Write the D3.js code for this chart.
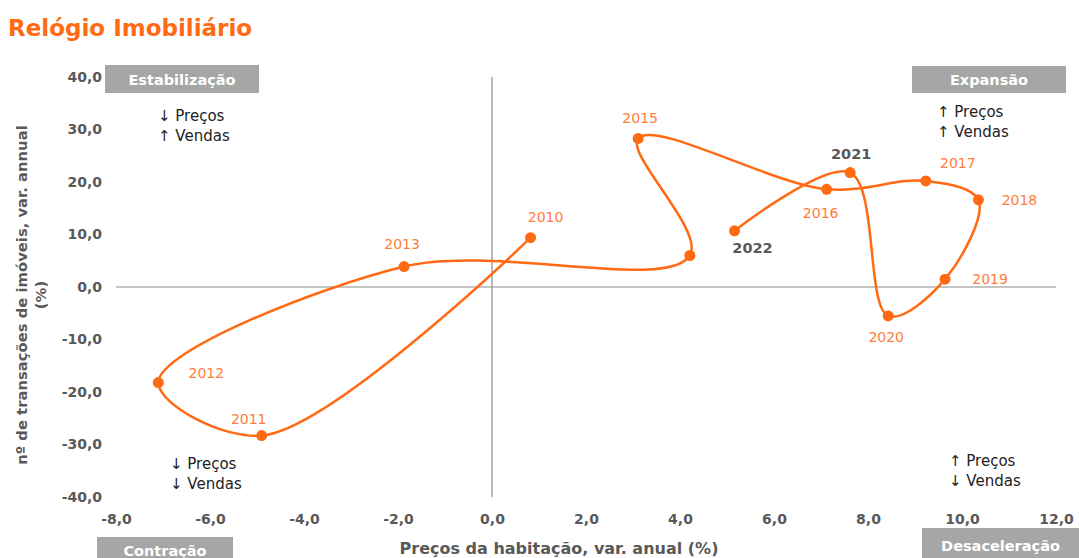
<!DOCTYPE html>
<html>
<head>
<meta charset="utf-8">
<script src="https://cdn.jsdelivr.net/npm/d3@7"></script>
<style>
  html, body { margin: 0; padding: 0; background: #fff; }
  svg { display: block; font-family: "DejaVu Sans", Verdana, sans-serif; }
</style>
</head>
<body>
<svg id="chart" width="1079" height="558"></svg>
<script>
// Annual change in house prices (x) and in number of transactions (y), %
const years  = [2010, 2011, 2012, 2013, 2014, 2015, 2016, 2017, 2018, 2019, 2020, 2021, 2022];
const prices = [0.82, -4.90, -7.10, -1.87, 4.21, 3.11, 7.12, 9.23, 10.35, 9.64, 8.43, 7.62, 5.16];
const sales  = [9.4, -28.3, -18.2, 3.9, 6.0, 28.3, 18.6, 20.2, 16.6, 1.5, -5.5, 21.8, 10.7];
const labelled = [2010, 2011, 2012, 2013, 2015, 2016, 2017, 2018, 2019, 2020, 2021, 2022];
const darkLabels = [2021, 2022];
const xTicks = [-8, -6, -4, -2, 0, 2, 4, 6, 8, 10, 12];
const yTicks = [-40, -30, -20, -10, 0, 10, 20, 30, 40];

// label offsets from each point, px
const labelOffset = {
  2010: [15, -21], 2011: [-13, -17], 2012: [48, -10], 2013: [-2, -23],
  2015: [2, -20], 2016: [-6, 24], 2017: [32, -18], 2018: [41, 0],
  2019: [45, 0], 2020: [-2, 21], 2021: [1, -19], 2022: [18, 17]
};

const ORANGE = "#ff6a13";
const LABEL_ORANGE = "#ff7d3a";
const GREY_TEXT = "#595959";

const svg = d3.select("#chart");
const x = d3.scaleLinear().domain([-8, 12]).range([116, 1056]);
const y = d3.scaleLinear().domain([-40, 40]).range([497, 77]);
const fmt = v => d3.format(".1f")(v).replace(".", ",").replace("−", "-");

// title
svg.append("text").attr("x", 8).attr("y", 36)
  .attr("font-size", 23).attr("font-weight", "bold").attr("fill", ORANGE)
  .text("Relógio Imobiliário");

// zero cross lines
svg.append("line").attr("x1", x(-8)).attr("x2", x(12)).attr("y1", y(0)).attr("y2", y(0))
  .attr("stroke", "#8c8c8c").attr("stroke-width", 1.2);
svg.append("line").attr("x1", x(0)).attr("x2", x(0)).attr("y1", y(40)).attr("y2", y(-40))
  .attr("stroke", "#8c8c8c").attr("stroke-width", 1.2);

// axes (labels only)
const yAxis = svg.append("g").attr("transform", "translate(105,0)")
  .call(d3.axisLeft(y).tickValues(yTicks).tickSize(0).tickFormat(fmt));
const xAxis = svg.append("g").attr("transform", "translate(0,511)")
  .call(d3.axisBottom(x).tickValues(xTicks).tickSize(0).tickFormat(fmt));
[xAxis, yAxis].forEach(a => {
  a.select(".domain").remove();
  a.selectAll("text").attr("fill", GREY_TEXT).attr("font-size", 14).attr("font-weight", "bold")
    .attr("font-family", "DejaVu Sans, Verdana, sans-serif");
});

// axis titles
svg.append("text").attr("x", 559).attr("y", 554).attr("text-anchor", "middle")
  .attr("font-size", 16).attr("font-weight", "bold").attr("fill", GREY_TEXT)
  .text("Preços da habitação, var. anual (%)");
const yTitle = svg.append("text").attr("transform", "translate(27,295) rotate(-90)")
  .attr("text-anchor", "middle").attr("font-size", 14.8).attr("font-weight", "bold").attr("fill", GREY_TEXT);
yTitle.append("tspan").attr("x", 0).attr("dy", 0).text("nº de transações de imóveis, var. annual");
yTitle.append("tspan").attr("x", 0).attr("dy", 19).text("(%)");

// quadrant boxes
const boxes = [
  { name: "Estabilização", x0: 105, x1: 259, y0: 65, y1: 93, ty: 85 },
  { name: "Expansão", x0: 912, x1: 1066, y0: 66, y1: 93, ty: 85 },
  { name: "Contração", x0: 97, x1: 233, y0: 537, y1: 566, ty: 556 },
  { name: "Desaceleração", x0: 922, x1: 1079, y0: 528, y1: 566, ty: 551 }
];
boxes.forEach(b => {
  svg.append("rect").attr("x", b.x0).attr("y", b.y0).attr("width", b.x1 - b.x0).attr("height", b.y1 - b.y0)
    .attr("fill", "#a6a6a6");
  svg.append("text").attr("x", (b.x0 + b.x1) / 2).attr("y", b.ty)
    .attr("text-anchor", "middle").attr("font-size", 14.5).attr("font-weight", "bold").attr("fill", "#fff")
    .text(b.name);
});

// quadrant notes
const notes = [
  { x: 158, y: 121, lines: ["↓ Preços", "↑ Vendas"] },
  { x: 937, y: 117, lines: ["↑ Preços", "↑ Vendas"] },
  { x: 170, y: 469, lines: ["↓ Preços", "↓ Vendas"] },
  { x: 949, y: 466, lines: ["↑ Preços", "↓ Vendas"] }
];
notes.forEach(n => {
  const t = svg.append("text").attr("x", n.x).attr("y", n.y).attr("font-size", 15).attr("fill", "#222");
  n.lines.forEach((l, i) => t.append("tspan").attr("x", n.x).attr("dy", i ? 20 : 0).text(l));
});

// path through the years
const pts = years.map((yr, i) => ({ year: yr, px: prices[i], sv: sales[i] }));
const line = d3.line().x(d => x(d.px)).y(d => y(d.sv)).curve(d3.curveCatmullRom.alpha(0.5));
svg.append("path").datum(pts).attr("d", line)
  .attr("fill", "none").attr("stroke", ORANGE).attr("stroke-width", 2.5);

svg.selectAll("circle.pt").data(pts).enter().append("circle")
  .attr("class", "pt").attr("cx", d => x(d.px)).attr("cy", d => y(d.sv)).attr("r", 5.5)
  .attr("fill", ORANGE);

svg.selectAll("text.yr").data(pts.filter(d => labelled.includes(d.year))).enter().append("text")
  .attr("class", "yr")
  .attr("x", d => x(d.px) + labelOffset[d.year][0])
  .attr("y", d => y(d.sv) + labelOffset[d.year][1] + 5)
  .attr("text-anchor", "middle")
  .attr("font-size", d => darkLabels.includes(d.year) ? 14.5 : 14)
  .attr("font-weight", d => darkLabels.includes(d.year) ? "bold" : "normal")
  .attr("fill", d => darkLabels.includes(d.year) ? GREY_TEXT : LABEL_ORANGE)
  .text(d => d.year);
</script>
</body>
</html>
